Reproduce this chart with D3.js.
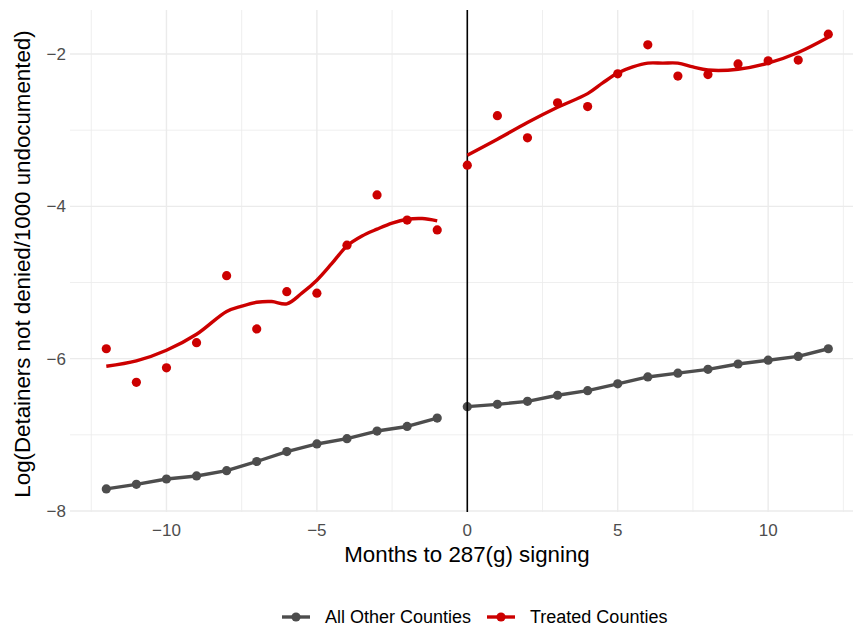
<!DOCTYPE html>
<html>
<head>
<meta charset="utf-8">
<script src="https://cdn.jsdelivr.net/npm/d3@7"></script>
<style>
  body { margin: 0; background: #fff; }
  svg { display: block; font-family: "Liberation Sans", Arial, sans-serif; }
</style>
</head>
<body>
<svg id="chart" width="853" height="626"></svg>
<script>
// months relative to signing
const months = [-12,-11,-10,-9,-8,-7,-6,-5,-4,-3,-2,-1,0,1,2,3,4,5,6,7,8,9,10,11,12];
// treated counties, observed points
const treatedValues = [-5.87,-6.31,-6.12,-5.79,-4.91,-5.61,-5.12,-5.14,-4.51,-3.85,-4.18,-4.31,
                       -3.46,-2.81,-3.10,-2.64,-2.69,-2.26,-1.88,-2.29,-2.27,-2.13,-2.09,-2.08,-1.74];
// all other counties, observed points
const otherValues = [-7.71,-7.65,-7.58,-7.54,-7.47,-7.35,-7.22,-7.12,-7.05,-6.95,-6.89,-6.78,
                     -6.63,-6.60,-6.56,-6.48,-6.42,-6.33,-6.24,-6.19,-6.14,-6.07,-6.02,-5.97,-5.87];
// smoothed fit for treated counties, before and after signing
const smoothPreX = [-12,-11,-10,-9,-8,-7.5,-7,-6.5,-6,-5.5,-5,-4.5,-4,-3.5,-3,-2.5,-2,-1.5,-1];
const smoothPreY = [-6.10,-6.03,-5.89,-5.68,-5.38,-5.31,-5.26,-5.25,-5.28,-5.14,-4.97,-4.75,-4.52,-4.39,-4.30,-4.22,-4.17,-4.16,-4.19];
const smoothPostX = [0,1,2,3,4,4.5,5,5.5,6,6.5,7,7.5,8,9,10,11,12];
const smoothPostY = [-3.33,-3.12,-2.90,-2.70,-2.52,-2.38,-2.25,-2.17,-2.12,-2.12,-2.12,-2.17,-2.21,-2.20,-2.12,-1.98,-1.78];

const xMajor = [-10,-5,0,5,10];
const xMinor = [-12.5,-7.5,-2.5,2.5,7.5,12.5];
const yMajor = [-8,-6,-4,-2];
const yMinor = [-7,-5,-3];
const seriesNames = ["All Other Counties","Treated Counties"];

const GRAY = "#4d4d4d", RED = "#cc0000";
const PANEL = { left: 70, right: 853, top: 10, bottom: 512 };

const svg = d3.select("#chart");
const x = d3.scaleLinear().domain([-12, 12]).range([106.3, 828.3]);
const y = d3.scaleLinear().domain([-8, -2]).range([511, 54]);

// grid
const grid = svg.append("g");
grid.selectAll(".vminor").data(xMinor).enter().append("line")
  .attr("x1", d => x(d)).attr("x2", d => x(d))
  .attr("y1", PANEL.top).attr("y2", PANEL.bottom)
  .attr("stroke", "#ebebeb").attr("stroke-width", 0.8);
grid.selectAll(".hminor").data(yMinor).enter().append("line")
  .attr("x1", PANEL.left).attr("x2", PANEL.right)
  .attr("y1", d => y(d)).attr("y2", d => y(d))
  .attr("stroke", "#ebebeb").attr("stroke-width", 0.8);
grid.selectAll(".vmajor").data(xMajor).enter().append("line")
  .attr("x1", d => x(d)).attr("x2", d => x(d))
  .attr("y1", PANEL.top).attr("y2", PANEL.bottom)
  .attr("stroke", "#ebebeb").attr("stroke-width", 1.4);
grid.selectAll(".hmajor").data(yMajor).enter().append("line")
  .attr("x1", PANEL.left).attr("x2", PANEL.right)
  .attr("y1", d => y(d)).attr("y2", d => y(d))
  .attr("stroke", "#ebebeb").attr("stroke-width", 1.4);

// tick labels
const fmt = d => d < 0 ? "\u2212" + Math.abs(d) : String(d);
svg.append("g").selectAll("text").data(xMajor).enter().append("text")
  .attr("x", d => x(d)).attr("y", 535.5)
  .attr("text-anchor", "middle").attr("font-size", 17).attr("fill", GRAY)
  .text(fmt);
svg.append("g").selectAll("text").data(yMajor).enter().append("text")
  .attr("x", 66).attr("y", d => y(d) + 6)
  .attr("text-anchor", "end").attr("font-size", 17).attr("fill", GRAY)
  .text(fmt);

// axis titles
svg.append("text").attr("x", 467).attr("y", 561.5)
  .attr("text-anchor", "middle").attr("font-size", 22.3).attr("fill", "#000")
  .text("Months to 287(g) signing");
svg.append("text").attr("transform", "translate(30,264) rotate(-90)")
  .attr("text-anchor", "middle").attr("font-size", 22.3).attr("fill", "#000")
  .text("Log(Detainers not denied/1000 undocumented)");

// split before / after signing
const pts = (vals) => months.map((m, i) => ({ m: m, v: vals[i] }));
const otherPts = pts(otherValues), treatedPts = pts(treatedValues);

const straight = d3.line().x(d => x(d.m)).y(d => y(d.v));
[otherPts.filter(d => d.m < 0), otherPts.filter(d => d.m >= 0)].forEach(seg => {
  svg.append("path").datum(seg).attr("d", straight)
    .attr("fill", "none").attr("stroke", GRAY).attr("stroke-width", 3.4)
    .attr("stroke-linejoin", "round");
});
svg.append("g").selectAll("circle").data(otherPts).enter().append("circle")
  .attr("cx", d => x(d.m)).attr("cy", d => y(d.v)).attr("r", 4.6).attr("fill", GRAY);

// vertical line at signing
svg.append("line").attr("x1", x(0)).attr("x2", x(0))
  .attr("y1", PANEL.top).attr("y2", PANEL.bottom)
  .attr("stroke", "#000").attr("stroke-width", 1.6);

// smoothed treated lines
const smooth = d3.line().x(d => x(d[0])).y(d => y(d[1])).curve(d3.curveCatmullRom.alpha(0.5));
[d3.zip(smoothPreX, smoothPreY), d3.zip(smoothPostX, smoothPostY)].forEach(seg => {
  svg.append("path").datum(seg).attr("d", smooth)
    .attr("fill", "none").attr("stroke", RED).attr("stroke-width", 3.4);
});
svg.append("g").selectAll("circle").data(treatedPts).enter().append("circle")
  .attr("cx", d => x(d.m)).attr("cy", d => y(d.v)).attr("r", 4.6).attr("fill", RED);

// legend
const legend = svg.append("g");
const keys = [{ name: seriesNames[0], col: GRAY, x0: 282 }, { name: seriesNames[1], col: RED, x0: 487 }];
keys.forEach(k => {
  legend.append("line").attr("x1", k.x0).attr("x2", k.x0 + 28).attr("y1", 617).attr("y2", 617)
    .attr("stroke", k.col).attr("stroke-width", 3.4);
  legend.append("circle").attr("cx", k.x0 + 14).attr("cy", 617).attr("r", 4.6).attr("fill", k.col);
  legend.append("text").attr("x", k.x0 + 43).attr("y", 623)
    .attr("font-size", 18).attr("fill", "#000").text(k.name);
});
</script>
</body>
</html>
